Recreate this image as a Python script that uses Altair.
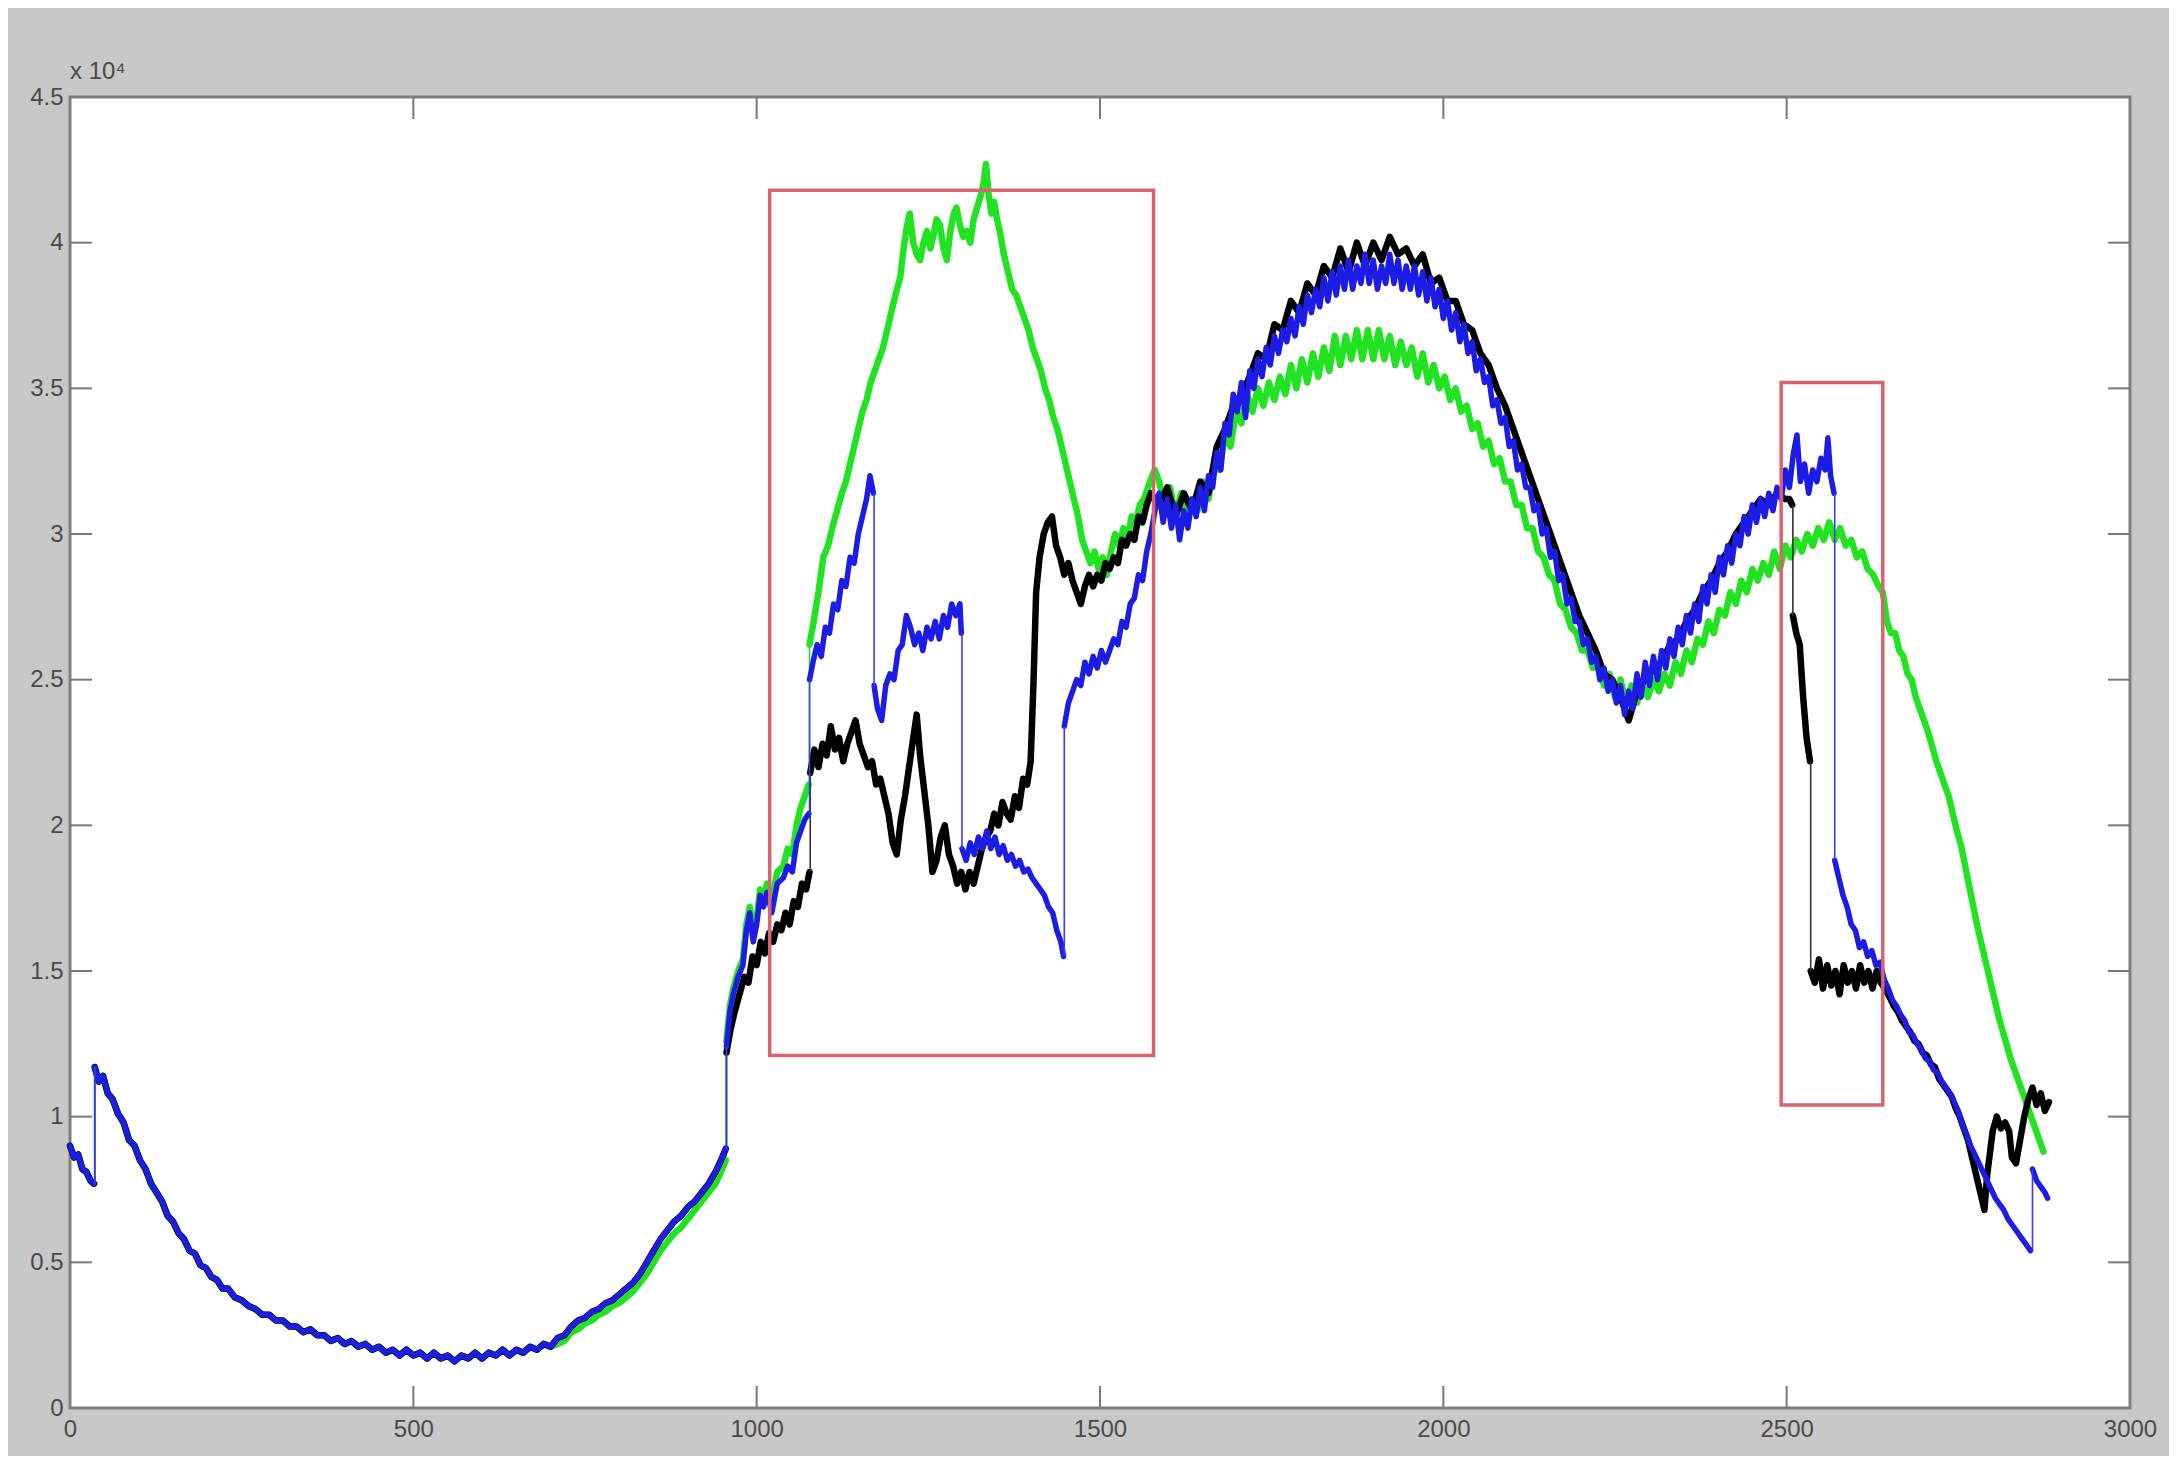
import altair as alt
import pandas as pd

# ---------------- data (x, value in units of 10^4) ----------------
BOWL = [
    (0, 0.90), (6, 0.86), (12, 0.87), (18, 0.82), (24, 0.81), (30, 0.78), (35, 0.77), (36, 1.17),
    (42, 1.12), (48, 1.14), (55, 1.08), (62, 1.06), (70, 1.01), (78, 0.98), (86, 0.92), (94, 0.90),
    (102, 0.85), (110, 0.82), (118, 0.77), (126, 0.74), (134, 0.71), (142, 0.66), (150, 0.64),
    (158, 0.60), (166, 0.58), (174, 0.54), (182, 0.53), (190, 0.49), (198, 0.48), (206, 0.45),
    (214, 0.44), (222, 0.41), (230, 0.41), (240, 0.38), (250, 0.37), (260, 0.35), (270, 0.34),
    (280, 0.32), (290, 0.32), (300, 0.30), (310, 0.30), (320, 0.28), (330, 0.28), (340, 0.26),
    (350, 0.27), (360, 0.25), (370, 0.25), (380, 0.23), (390, 0.24), (400, 0.22), (410, 0.23),
    (420, 0.21), (430, 0.22), (440, 0.20), (450, 0.21), (460, 0.19), (470, 0.20), (480, 0.18),
    (490, 0.20), (500, 0.18), (510, 0.19), (520, 0.17), (530, 0.19), (540, 0.17), (550, 0.18),
    (560, 0.16), (570, 0.18), (580, 0.17), (590, 0.19), (600, 0.17), (610, 0.19), (620, 0.18),
    (630, 0.20), (640, 0.18), (650, 0.20), (660, 0.19), (670, 0.21), (680, 0.20), (690, 0.22),
    (700, 0.21), (710, 0.24), (720, 0.25), (730, 0.28), (740, 0.30), (750, 0.31), (760, 0.33),
    (770, 0.34), (780, 0.36), (790, 0.37), (800, 0.39), (810, 0.41), (820, 0.43), (830, 0.46),
    (840, 0.50), (850, 0.54), (860, 0.58), (870, 0.61), (880, 0.64), (890, 0.66), (900, 0.69),
    (910, 0.71), (920, 0.74), (930, 0.77), (940, 0.81), (948, 0.85), (955, 0.89),
]

GREEN_RISE = [
    (710, 0.22), (720, 0.23), (730, 0.26), (740, 0.27), (750, 0.29), (760, 0.30), (770, 0.32),
    (780, 0.33), (790, 0.35), (800, 0.36), (810, 0.38), (820, 0.40), (830, 0.43), (840, 0.46),
    (850, 0.50), (860, 0.54), (870, 0.57), (880, 0.60), (890, 0.62), (900, 0.65), (910, 0.68),
    (920, 0.71), (930, 0.74), (940, 0.77), (948, 0.81), (955, 0.85),
]

BLUE_BOX = [
    (956, 1.24), (961, 1.36), (966, 1.42), (973, 1.48), (980, 1.52), (985, 1.64), (990, 1.70),
    (995, 1.60), (1000, 1.66), (1005, 1.76), (1010, 1.72), (1015, 1.77), (1022, 1.70), (1030, 1.80),
    (1039, 1.82), (1045, 1.86), (1052, 1.84), (1058, 1.94), (1064, 1.98), (1070, 2.02), (1076, 2.04),
    (1077, 2.50), (1082, 2.56), (1088, 2.62), (1094, 2.58), (1100, 2.68), (1106, 2.66), (1112, 2.76),
    (1118, 2.74), (1124, 2.84), (1130, 2.82), (1136, 2.92), (1142, 2.90), (1148, 3.00), (1154, 3.06),
    (1160, 3.12), (1165, 3.20), (1170, 3.14), (1171, 2.48), (1176, 2.40), (1182, 2.36), (1188, 2.48),
    (1194, 2.52), (1200, 2.50), (1206, 2.60), (1212, 2.62), (1218, 2.72), (1224, 2.68), (1230, 2.62),
    (1236, 2.66), (1242, 2.60), (1248, 2.68), (1254, 2.64), (1260, 2.70), (1266, 2.64), (1272, 2.72),
    (1278, 2.68), (1284, 2.76), (1290, 2.72), (1296, 2.76), (1298, 2.66), (1299, 1.92), (1305, 1.88),
    (1311, 1.94), (1317, 1.90), (1323, 1.96), (1329, 1.92), (1335, 1.98), (1341, 1.92), (1347, 1.96),
    (1353, 1.90), (1359, 1.93), (1365, 1.88), (1371, 1.90), (1377, 1.86), (1383, 1.88), (1389, 1.84),
    (1395, 1.85), (1401, 1.82), (1407, 1.80), (1413, 1.78), (1419, 1.76), (1425, 1.72), (1431, 1.70),
    (1437, 1.64), (1443, 1.60), (1447, 1.55), (1448, 2.34), (1454, 2.42), (1460, 2.46), (1466, 2.50),
    (1472, 2.48), (1478, 2.56), (1484, 2.52), (1490, 2.58), (1496, 2.54), (1502, 2.60), (1508, 2.56),
    (1514, 2.60), (1520, 2.64), (1526, 2.62), (1532, 2.70), (1538, 2.68), (1544, 2.76), (1550, 2.78),
    (1556, 2.86), (1562, 2.84), (1568, 2.94), (1574, 3.00), (1580, 3.08),
]

BLACK_BOX = [
    (956, 1.22), (962, 1.30), (968, 1.36), (975, 1.42), (982, 1.48), (988, 1.46), (994, 1.55),
    (1000, 1.52), (1006, 1.60), (1012, 1.56), (1018, 1.63), (1024, 1.60), (1030, 1.66), (1036, 1.64),
    (1042, 1.70), (1048, 1.66), (1054, 1.74), (1060, 1.72), (1066, 1.80), (1072, 1.78), (1077, 1.84),
    (1078, 2.18), (1084, 2.26), (1090, 2.20), (1096, 2.28), (1102, 2.24), (1108, 2.34), (1114, 2.26),
    (1120, 2.30), (1126, 2.22), (1132, 2.28), (1138, 2.32), (1144, 2.36), (1150, 2.28), (1156, 2.24),
    (1162, 2.20), (1168, 2.22), (1174, 2.14), (1180, 2.16), (1186, 2.10), (1192, 2.04), (1198, 1.94),
    (1204, 1.90), (1210, 2.02), (1216, 2.10), (1222, 2.20), (1228, 2.30), (1233, 2.38), (1238, 2.24),
    (1244, 2.12), (1250, 2.00), (1256, 1.84), (1262, 1.88), (1268, 1.96), (1274, 2.00), (1280, 1.90),
    (1286, 1.86), (1292, 1.80), (1298, 1.84), (1304, 1.78), (1310, 1.84), (1316, 1.80), (1322, 1.86),
    (1328, 1.92), (1334, 1.96), (1340, 1.98), (1346, 2.04), (1352, 2.00), (1358, 2.08), (1364, 2.04),
    (1370, 2.02), (1376, 2.10), (1382, 2.06), (1388, 2.16), (1394, 2.14), (1399, 2.22), (1403, 2.48),
    (1407, 2.80), (1412, 2.92), (1418, 3.00), (1424, 3.04), (1430, 3.06), (1436, 2.96), (1442, 2.92),
    (1448, 2.86), (1454, 2.90), (1460, 2.84), (1466, 2.80), (1472, 2.76), (1478, 2.82), (1484, 2.86),
    (1490, 2.82), (1496, 2.86), (1502, 2.84), (1508, 2.90), (1514, 2.88), (1520, 2.92), (1526, 2.90),
    (1532, 2.98), (1538, 2.96), (1544, 3.00), (1550, 2.98), (1556, 3.06), (1562, 3.04), (1568, 3.10),
    (1574, 3.14), (1580, 3.12),
]

GREEN_BOX = [
    (956, 1.26), (961, 1.38), (966, 1.44), (973, 1.50), (980, 1.54), (985, 1.66), (990, 1.72),
    (995, 1.62), (1000, 1.68), (1005, 1.78), (1010, 1.74), (1015, 1.80), (1022, 1.74), (1030, 1.84),
    (1039, 1.86), (1045, 1.92), (1052, 1.90), (1058, 2.00), (1064, 2.06), (1070, 2.10), (1076, 2.14),
    (1077, 2.62), (1083, 2.70), (1090, 2.80), (1097, 2.92), (1104, 2.96), (1110, 3.02), (1117, 3.08),
    (1124, 3.14), (1130, 3.18), (1136, 3.24), (1142, 3.30), (1148, 3.36), (1154, 3.42), (1160, 3.46),
    (1166, 3.52), (1172, 3.56), (1178, 3.60), (1184, 3.64), (1190, 3.70), (1196, 3.76), (1202, 3.82),
    (1209, 3.88), (1214, 3.98), (1219, 4.06), (1223, 4.10), (1228, 4.00), (1233, 3.96), (1238, 3.94),
    (1243, 4.00), (1248, 4.04), (1253, 3.98), (1257, 4.02), (1262, 4.08), (1267, 4.06), (1272, 3.98),
    (1277, 3.94), (1282, 4.04), (1287, 4.10), (1291, 4.12), (1296, 4.06), (1301, 4.02), (1306, 4.04),
    (1311, 4.00), (1316, 4.08), (1321, 4.12), (1326, 4.16), (1330, 4.20), (1334, 4.27), (1338, 4.16),
    (1342, 4.10), (1346, 4.14), (1350, 4.08), (1354, 4.04), (1360, 3.96), (1366, 3.90), (1372, 3.84),
    (1378, 3.82), (1384, 3.78), (1390, 3.74), (1396, 3.70), (1402, 3.64), (1408, 3.60), (1414, 3.56),
    (1420, 3.50), (1426, 3.46), (1432, 3.40), (1438, 3.36), (1444, 3.30), (1450, 3.24), (1456, 3.18),
    (1462, 3.12), (1468, 3.06), (1474, 2.98), (1480, 2.94), (1486, 2.90), (1492, 2.94), (1498, 2.88),
    (1504, 2.92), (1510, 2.86), (1516, 2.94), (1522, 3.00), (1528, 2.96), (1534, 3.02), (1540, 2.98),
    (1546, 3.06), (1552, 3.04), (1558, 3.10), (1564, 3.12), (1570, 3.16), (1576, 3.20), (1580, 3.22),
]

BLUE_HUMP = [
    (1586, 3.14), (1592, 3.04), (1598, 3.12), (1604, 3.02), (1610, 3.10), (1616, 2.98), (1622, 3.08),
    (1628, 3.02), (1634, 3.12), (1640, 3.06), (1646, 3.16), (1652, 3.08), (1658, 3.20), (1664, 3.16),
    (1670, 3.28), (1676, 3.22), (1682, 3.38), (1688, 3.34), (1694, 3.48), (1700, 3.42), (1706, 3.52),
    (1712, 3.40), (1718, 3.56), (1724, 3.50), (1730, 3.60), (1736, 3.54), (1742, 3.64), (1748, 3.58),
    (1754, 3.68), (1760, 3.62), (1766, 3.70), (1772, 3.66), (1778, 3.74), (1784, 3.68), (1790, 3.78),
    (1796, 3.72), (1802, 3.82), (1808, 3.76), (1814, 3.84), (1820, 3.78), (1826, 3.88), (1832, 3.80),
    (1838, 3.90), (1844, 3.82), (1850, 3.92), (1856, 3.84), (1862, 3.94), (1868, 3.84), (1874, 3.92),
    (1880, 3.86), (1886, 3.96), (1892, 3.86), (1898, 3.94), (1904, 3.84), (1910, 3.92), (1916, 3.86),
    (1922, 3.96), (1928, 3.86), (1934, 3.94), (1940, 3.84), (1946, 3.92), (1952, 3.84), (1958, 3.92),
    (1964, 3.82), (1970, 3.90), (1976, 3.80), (1982, 3.88), (1988, 3.78), (1994, 3.84), (2000, 3.74),
    (2006, 3.80), (2012, 3.70), (2018, 3.76), (2024, 3.66), (2030, 3.72), (2036, 3.62), (2042, 3.66),
    (2048, 3.56), (2054, 3.60), (2060, 3.52), (2066, 3.54), (2072, 3.44), (2078, 3.46), (2084, 3.38),
    (2090, 3.40), (2096, 3.30), (2102, 3.32), (2108, 3.22), (2114, 3.24), (2120, 3.16), (2126, 3.16),
    (2132, 3.08), (2138, 3.10), (2144, 3.00), (2150, 3.02), (2156, 2.92), (2162, 2.94), (2168, 2.84),
    (2174, 2.86), (2180, 2.76), (2186, 2.78), (2192, 2.70), (2198, 2.70), (2204, 2.62), (2210, 2.64),
    (2216, 2.56), (2222, 2.58), (2228, 2.50), (2234, 2.54), (2240, 2.46), (2246, 2.50), (2252, 2.42),
    (2258, 2.48), (2264, 2.38), (2270, 2.46), (2276, 2.40), (2282, 2.52), (2288, 2.44), (2294, 2.56),
    (2300, 2.48), (2306, 2.58), (2312, 2.50), (2318, 2.60), (2324, 2.54), (2330, 2.64), (2336, 2.58),
    (2342, 2.68), (2348, 2.62), (2354, 2.72), (2360, 2.66), (2366, 2.76), (2372, 2.70), (2378, 2.82),
    (2384, 2.76), (2390, 2.86), (2396, 2.80), (2402, 2.92), (2408, 2.86), (2414, 2.96), (2420, 2.90),
    (2426, 3.00), (2432, 2.96), (2438, 3.06), (2444, 3.00), (2450, 3.10), (2456, 3.04), (2462, 3.12),
    (2468, 3.06), (2474, 3.14), (2480, 3.08), (2486, 3.16), (2492, 3.12), (2498, 3.22),
]

BLACK_HUMP = [
    (1586, 3.10), (1598, 3.16), (1610, 3.06), (1622, 3.14), (1634, 3.08), (1646, 3.18), (1658, 3.14),
    (1670, 3.30), (1682, 3.36), (1694, 3.44), (1706, 3.48), (1718, 3.54), (1730, 3.62), (1742, 3.60),
    (1754, 3.72), (1766, 3.70), (1778, 3.80), (1790, 3.76), (1802, 3.86), (1814, 3.82), (1826, 3.92),
    (1838, 3.88), (1850, 3.98), (1862, 3.90), (1874, 4.00), (1886, 3.92), (1898, 4.00), (1910, 3.94),
    (1922, 4.02), (1934, 3.96), (1946, 3.98), (1958, 3.92), (1970, 3.96), (1982, 3.86), (1994, 3.88),
    (2006, 3.80), (2018, 3.80), (2030, 3.72), (2042, 3.70), (2054, 3.62), (2066, 3.58), (2078, 3.50),
    (2090, 3.44), (2102, 3.36), (2114, 3.28), (2126, 3.20), (2138, 3.12), (2150, 3.04), (2162, 2.96),
    (2174, 2.88), (2186, 2.80), (2198, 2.72), (2210, 2.66), (2222, 2.60), (2234, 2.52), (2246, 2.50),
    (2258, 2.44), (2270, 2.36), (2282, 2.46), (2294, 2.50), (2306, 2.54), (2318, 2.56), (2330, 2.62),
    (2342, 2.64), (2354, 2.70), (2366, 2.74), (2378, 2.80), (2390, 2.84), (2402, 2.90), (2414, 2.94),
    (2426, 3.00), (2438, 3.04), (2450, 3.08), (2462, 3.12), (2474, 3.10), (2486, 3.14), (2498, 3.12),
]

GREEN_HUMP = [
    (1586, 3.18), (1594, 3.10), (1602, 3.16), (1610, 3.06), (1618, 3.14), (1626, 3.04), (1634, 3.12),
    (1642, 3.08), (1650, 3.18), (1658, 3.12), (1666, 3.24), (1674, 3.22), (1682, 3.34), (1690, 3.30),
    (1698, 3.42), (1706, 3.38), (1714, 3.48), (1722, 3.42), (1730, 3.50), (1738, 3.44), (1746, 3.52),
    (1754, 3.46), (1762, 3.54), (1770, 3.48), (1778, 3.58), (1786, 3.50), (1794, 3.60), (1802, 3.52),
    (1810, 3.62), (1818, 3.54), (1826, 3.64), (1834, 3.56), (1842, 3.68), (1850, 3.58), (1858, 3.68),
    (1866, 3.60), (1874, 3.70), (1882, 3.60), (1890, 3.70), (1898, 3.60), (1906, 3.70), (1914, 3.60),
    (1922, 3.68), (1930, 3.58), (1938, 3.66), (1946, 3.58), (1954, 3.64), (1962, 3.54), (1970, 3.62),
    (1978, 3.52), (1986, 3.58), (1994, 3.50), (2002, 3.54), (2010, 3.46), (2018, 3.50), (2026, 3.42),
    (2034, 3.44), (2042, 3.36), (2050, 3.38), (2058, 3.30), (2066, 3.32), (2074, 3.24), (2082, 3.26),
    (2090, 3.18), (2098, 3.18), (2106, 3.10), (2114, 3.10), (2122, 3.02), (2130, 3.02), (2138, 2.94),
    (2146, 2.92), (2154, 2.86), (2162, 2.84), (2170, 2.76), (2178, 2.74), (2186, 2.68), (2194, 2.66),
    (2202, 2.60), (2210, 2.60), (2218, 2.54), (2226, 2.56), (2234, 2.48), (2242, 2.52), (2250, 2.44),
    (2258, 2.50), (2266, 2.42), (2274, 2.48), (2282, 2.42), (2290, 2.48), (2298, 2.44), (2306, 2.50),
    (2314, 2.46), (2322, 2.52), (2330, 2.48), (2338, 2.56), (2346, 2.52), (2354, 2.60), (2362, 2.56),
    (2370, 2.64), (2378, 2.62), (2386, 2.70), (2394, 2.66), (2402, 2.74), (2410, 2.72), (2418, 2.80),
    (2426, 2.76), (2434, 2.84), (2442, 2.80), (2450, 2.88), (2458, 2.84), (2466, 2.90), (2474, 2.86),
    (2482, 2.94), (2490, 2.88), (2498, 2.96),
]

BLUE_TAIL = [
    (2504, 3.16), (2510, 3.28), (2515, 3.34), (2520, 3.18), (2526, 3.24), (2532, 3.14), (2538, 3.22),
    (2544, 3.18), (2550, 3.26), (2556, 3.22), (2560, 3.33), (2564, 3.20), (2569, 3.14), (2570, 1.88),
    (2576, 1.82), (2582, 1.76), (2588, 1.72), (2594, 1.66), (2600, 1.64), (2606, 1.58), (2612, 1.60),
    (2618, 1.55), (2624, 1.57), (2630, 1.52), (2636, 1.53), (2642, 1.47), (2648, 1.44), (2654, 1.40),
    (2660, 1.38), (2666, 1.35), (2672, 1.33), (2678, 1.29), (2684, 1.28), (2690, 1.25), (2696, 1.23),
    (2702, 1.20), (2708, 1.19), (2714, 1.16), (2720, 1.15), (2726, 1.12), (2732, 1.10), (2738, 1.08),
    (2744, 1.05), (2750, 1.02), (2756, 0.97), (2762, 0.94), (2768, 0.90), (2774, 0.87), (2780, 0.84),
    (2786, 0.81), (2792, 0.78), (2798, 0.75), (2804, 0.72), (2810, 0.70), (2816, 0.68), (2822, 0.65),
    (2828, 0.63), (2834, 0.61), (2840, 0.59), (2846, 0.57), (2852, 0.55), (2855, 0.54), (2858, 0.82),
    (2864, 0.78), (2870, 0.76), (2876, 0.74), (2880, 0.72),
]

BLACK_TAIL = [
    (2504, 3.12), (2508, 3.10), (2509, 2.72), (2514, 2.66), (2519, 2.62), (2524, 2.44), (2529, 2.30),
    (2534, 2.22), (2535, 1.50), (2541, 1.46), (2547, 1.54), (2553, 1.44), (2559, 1.52), (2565, 1.45),
    (2571, 1.50), (2577, 1.42), (2583, 1.52), (2589, 1.46), (2595, 1.50), (2601, 1.44), (2607, 1.52),
    (2613, 1.46), (2619, 1.50), (2625, 1.44), (2631, 1.50), (2637, 1.46), (2643, 1.44), (2650, 1.41),
    (2656, 1.38), (2662, 1.36), (2668, 1.33), (2674, 1.31), (2680, 1.29), (2686, 1.26), (2692, 1.25),
    (2698, 1.22), (2704, 1.21), (2710, 1.18), (2716, 1.17), (2722, 1.13), (2728, 1.11), (2734, 1.09),
    (2740, 1.07), (2746, 1.03), (2752, 1.00), (2758, 0.96), (2764, 0.92), (2770, 0.86), (2776, 0.80),
    (2782, 0.74), (2788, 0.68), (2792, 0.80), (2800, 0.95), (2806, 1.00), (2812, 0.96), (2818, 0.98),
    (2824, 0.95), (2828, 0.86), (2834, 0.84), (2840, 0.92), (2846, 1.00), (2852, 1.06), (2858, 1.10),
    (2864, 1.04), (2870, 1.08), (2876, 1.02), (2882, 1.05),
]

GREEN_TAIL = [
    (2506, 2.92), (2514, 2.98), (2522, 2.94), (2530, 3.00), (2538, 2.96), (2546, 3.02), (2554, 2.98),
    (2562, 3.04), (2570, 2.98), (2578, 3.02), (2586, 2.96), (2594, 2.98), (2602, 2.92), (2610, 2.94),
    (2618, 2.88), (2626, 2.86), (2634, 2.82), (2640, 2.80), (2646, 2.70), (2652, 2.66), (2658, 2.66),
    (2664, 2.60), (2670, 2.58), (2676, 2.52), (2682, 2.50), (2688, 2.44), (2694, 2.40), (2700, 2.36),
    (2706, 2.32), (2712, 2.27), (2718, 2.22), (2724, 2.18), (2730, 2.14), (2736, 2.10), (2742, 2.04),
    (2748, 1.98), (2754, 1.93), (2760, 1.86), (2766, 1.79), (2772, 1.72), (2778, 1.65), (2784, 1.59),
    (2790, 1.53), (2796, 1.47), (2802, 1.41), (2808, 1.35), (2814, 1.30), (2820, 1.25), (2826, 1.20),
    (2832, 1.16), (2838, 1.12), (2844, 1.08), (2850, 1.04), (2856, 1.00), (2862, 0.96), (2868, 0.92),
    (2874, 0.88),
]

# highlighted regions (x from, x to, y from, y to)
BOX_X0 = [1019, 2492]
BOX_X1 = [1578, 2640]
BOX_Y0 = [1.21, 1.04]
BOX_Y1 = [4.18, 3.52]

X_TICKS = [0, 500, 1000, 1500, 2000, 2500, 3000]
Y_TICKS = [0, 0.5, 1, 1.5, 2, 2.5, 3, 3.5, 4, 4.5]


# ---------------- build tables ----------------
def table(segments):
    """Points in drawing order; a new piece starts at each sudden jump, and the
    jump itself is returned separately so it can be drawn as a thin connector."""
    rows, jumps = [], []
    seg = 0
    prev = None
    for part in segments:
        for x, y in part:
            if prev is not None and x - prev[0] <= 3 and abs(y - prev[1]) > 0.2:
                seg += 1
                jumps.append({"x": x, "y1": prev[1], "y2": y})
            rows.append({"x": x, "y": y, "i": len(rows), "seg": seg})
            prev = (x, y)
    return pd.DataFrame(rows), pd.DataFrame(jumps)


green_df, green_j = table([[p for p in BOWL if p[0] <= 700], GREEN_RISE, GREEN_BOX, GREEN_HUMP, GREEN_TAIL])
black_df, black_j = table([BOWL, BLACK_BOX, BLACK_HUMP, BLACK_TAIL])
blue_df, blue_j = table([BOWL, BLUE_BOX, BLUE_HUMP, BLUE_TAIL])

W, H = 2060, 1311
FONT = "Liberation Sans Narrow, Liberation Sans, Arial, sans-serif"
LABEL_COLOR = "#4a4a4a"
TICK_COLOR = "#7a7a7a"
TICK_LEN = 22

xs = alt.Scale(domain=[0, 3000], nice=False, zero=False)
ys = alt.Scale(domain=[0, 4.5], nice=False, zero=False)

x_axis = alt.Axis(values=X_TICKS, format="d", title=None, grid=False, domain=False, ticks=False,
                  labelFont=FONT, labelFontSize=24, labelColor=LABEL_COLOR, labelPadding=9,
                  labelFlush=False, labelOverlap=False)
y_axis = alt.Axis(values=Y_TICKS, format="~g", title=None, grid=False, domain=False, ticks=False,
                  labelFont=FONT, labelFontSize=24, labelColor=LABEL_COLOR, labelPadding=7,
                  labelFlush=False, labelOverlap=False)


def line(df, color, width):
    return alt.Chart(df).mark_line(color=color, strokeWidth=width, strokeJoin="round",
                                   strokeCap="round").encode(
        x=alt.X("x:Q", scale=xs, axis=x_axis, title=None),
        y=alt.Y("y:Q", scale=ys, axis=y_axis, title=None),
        detail="seg:N",
        order="i:Q",
    )


def jumps(df, color):
    return alt.Chart(df).mark_rule(color=color, strokeWidth=1.6).encode(
        x=alt.X("x:Q", scale=xs, axis=x_axis, title=None),
        y=alt.Y("y1:Q", scale=ys, axis=y_axis, title=None),
        y2="y2:Q",
    )


green = line(green_df, "#22e322", 6.5)
black = line(black_df, "#000000", 6.5)
blue = line(blue_df, "#1c1ce6", 5.5)

boxes = alt.Chart(pd.DataFrame({"x0": BOX_X0, "x1": BOX_X1, "y0": BOX_Y0, "y1": BOX_Y1})).mark_rect(
    filled=False, stroke="#d9646c", strokeWidth=3.5
).encode(
    x=alt.X("x0:Q", scale=xs, axis=x_axis, title=None), x2="x1:Q",
    y=alt.Y("y0:Q", scale=ys, axis=y_axis, title=None), y2="y1:Q",
)

xt = pd.DataFrame({"v": X_TICKS[1:-1]})
yt = pd.DataFrame({"v": Y_TICKS[1:-1]})
tick_bottom = alt.Chart(xt).mark_rule(color=TICK_COLOR, strokeWidth=2).encode(
    x=alt.X("v:Q", scale=xs, axis=x_axis, title=None), y=alt.value(H), y2=alt.value(H - TICK_LEN))
tick_top = alt.Chart(xt).mark_rule(color=TICK_COLOR, strokeWidth=2).encode(
    x=alt.X("v:Q", scale=xs, axis=x_axis, title=None), y=alt.value(0), y2=alt.value(TICK_LEN))
tick_left = alt.Chart(yt).mark_rule(color=TICK_COLOR, strokeWidth=2).encode(
    y=alt.Y("v:Q", scale=ys, axis=y_axis, title=None), x=alt.value(0), x2=alt.value(TICK_LEN))
tick_right = alt.Chart(yt).mark_rule(color=TICK_COLOR, strokeWidth=2).encode(
    y=alt.Y("v:Q", scale=ys, axis=y_axis, title=None), x=alt.value(W - TICK_LEN), x2=alt.value(W))

chart = alt.layer(
    green, jumps(green_j, "#22e322"),
    black, jumps(black_j, "#333333"),
    blue, jumps(blue_j, "#3a3aee"),
    boxes, tick_bottom, tick_top, tick_left, tick_right,
).properties(
    width=W, height=H,
    title=alt.TitleParams(text="x 10⁴", anchor="start", frame="group", font=FONT, fontSize=24,
                          fontWeight="normal", color=LABEL_COLOR, offset=1),
    autosize=alt.AutoSizeParams(type="none"),
    padding={"left": 62, "top": 89, "right": 39, "bottom": 48},
    background="#c8c8c8",
).configure_view(
    fill="white", stroke="#808080", strokeWidth=3
)

chart.save("out.html", embed_options={"renderer": "svg", "actions": False})
